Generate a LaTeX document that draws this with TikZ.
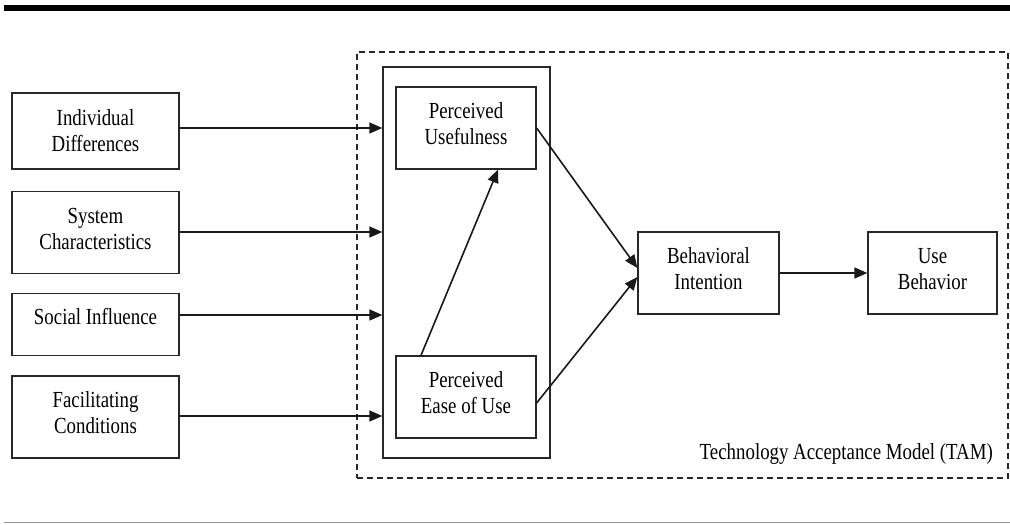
\documentclass[tikz,border=0pt]{standalone}
\usepackage{fontspec}
\setmainfont{Liberation Serif}[FakeStretch=0.82]
\usepackage{tikz}
\usepackage{xcolor}
\usetikzlibrary{arrows.meta, calc, positioning}
\definecolor{rulegray}{RGB}{150,150,150}
\definecolor{boxline}{RGB}{40,40,40}
\tikzset{
  cblk/.style={
    draw=boxline, line width=1.3pt, fill=white,
    minimum width=#1, inner sep=2pt, align=center, text depth=8pt,
    font=\fontsize{23}{26}\selectfont,
  },
  flowarr/.style={-{Triangle[length=13pt, width=11pt]}, line width=1.6pt, black!90},
  tamframe/.style={draw=boxline, line width=1.3pt, dash pattern=on 6pt off 4pt},
}
\def\Lx{95.5}
\def\Mx{466}

\begin{document}
\begin{tikzpicture}[x=1pt, y=-1pt]
\useasboundingbox (0,0) rectangle (1010,525);

% page rules
\draw[line width=6pt] (4,8) -- (1010,8);
\draw[rulegray, line width=1.5pt] (4,522.5) -- (1010,522.5);

% =====================================================================
%  TAM FRAME
% =====================================================================
\node[tamframe, minimum width=651, minimum height=426] (tam) at (682.5, 265) {};
\node[draw=boxline, line width=1.3pt, minimum width=167, minimum height=391] (tambox) at (\Mx+0.5, 262.5) {};

\node[font=\fontsize{23}{26}\selectfont, anchor=base east, inner sep=0pt] (tamlbl)
  at (993, 459) {Technology Acceptance Model (TAM)};

% =====================================================================
%  EXTERNAL VARIABLES
% =====================================================================
\node[cblk=167, minimum height=76, text depth=0pt] (idiff) at (\Lx, 131) {Individual\\Differences};
\node[cblk=167, minimum height=82] (sysch) at (\Lx, 232.5) {System\\Characteristics};
\node[cblk=167, minimum height=62, text height=11pt, text depth=11pt] (socinf) at (\Lx, 324.5) {Social Influence};
\node[cblk=167, minimum height=82] (facil) at (\Lx, 417) {Facilitating\\Conditions};

% =====================================================================
%  TAM CONSTRUCTS
% =====================================================================
\node[cblk=140, minimum height=82] (pu) at (\Mx, 128) {Perceived\\Usefulness};
\node[cblk=140, minimum height=82] (peou) at (\Mx, 397) {Perceived\\Ease of Use};
\node[cblk=141, minimum height=82] (bi) at (708.5, 273) {Behavioral\\Intention};
\node[cblk=129, minimum height=82] (ub) at (932.5, 273) {Use\\Behavior};

% --- external variables -> TAM ---
\foreach \src/\dy in {idiff/3, sysch/0.5, socinf/9.5, facil/1} {
  \coordinate (\src-out) at ([yshift=\dy pt]\src.east);
  \draw[flowarr] (\src-out) -- (\src-out -| tambox.west);
}

% --- inside TAM ---
\draw[flowarr] ([xshift=-45pt]peou.north) -- ([xshift=32pt]pu.south);
\draw[flowarr] (pu.east) -- ([yshift=5pt]bi.west);
\draw[flowarr] ([yshift=-6pt]peou.east) -- ([yshift=-4pt]bi.west);
\draw[flowarr] (bi) -- (ub);

\end{tikzpicture}
\end{document}
